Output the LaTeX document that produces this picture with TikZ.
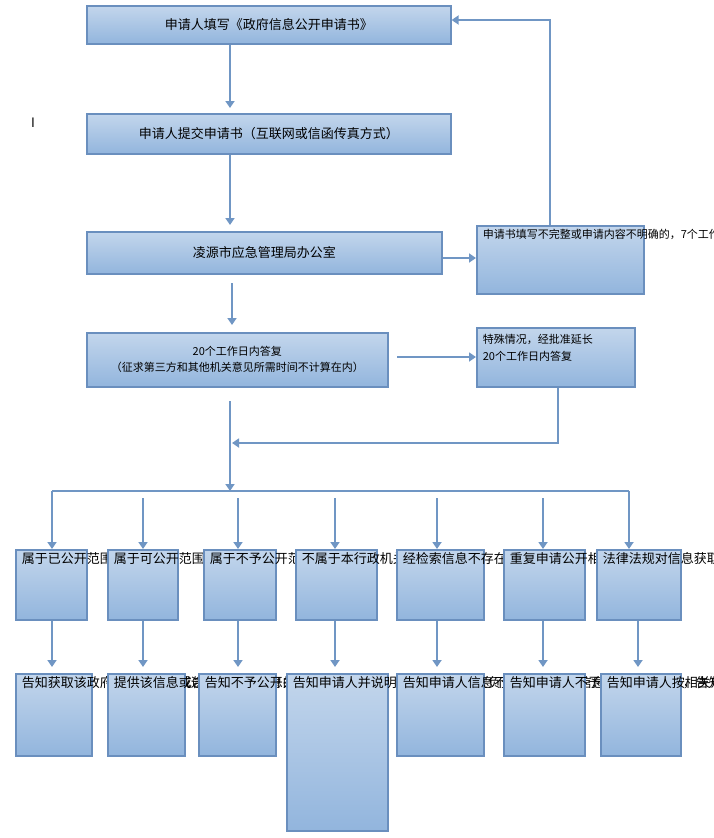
\documentclass[tikz,border=0pt]{standalone}
\usepackage{fontspec}
\setmainfont{Noto Sans CJK SC}
\usepackage{tikz}
\usetikzlibrary{arrows.meta, positioning}
\definecolor{boxline}{HTML}{6A8FBE}
\definecolor{boxtop}{HTML}{C3D6EC}
\definecolor{boxbot}{HTML}{92B5DD}
\definecolor{flow}{HTML}{7096C4}
\tikzstyle{stage}=[draw=boxline, line width=1.6pt, top color=boxtop, bottom color=boxbot, inner sep=0pt, anchor=north west]
\tikzstyle{flowarrow}=[draw=flow, line width=2.6pt, -{Triangle[length=7pt,width=9pt]}]
\tikzstyle{busline}=[draw=flow, line width=2.6pt]
% box with top-left text: width, height, text
\newcommand{\tb}[3]{\parbox[c][#2pt][t]{#1pt}{\vspace{3pt}\leftskip=6pt\rightskip=2pt plus 1fil\relax #3}}
\newcommand{\cb}[3]{\parbox[c][#2pt][c]{#1pt}{\centering #3}}

\begin{document}
\begin{tikzpicture}[x=1pt, y=-1pt, font=\fontsize{13}{15}\selectfont]
    \useasboundingbox (0,0) rectangle (713,838);
    \node[stage] (apply) at (86,5) {\cb{364}{38}{申请人填写《政府信息公开申请书》}};
    \node[stage] (submit) at (86,113) {\cb{364}{40}{申请人提交申请书（互联网或信函传真方式）}};
    \node[stage] (office) at (86,231) {\cb{355}{42}{凌源市应急管理局办公室}};
    \node[stage] (reply) at (86,332) {\cb{301}{54}{\fontsize{11}{16}\selectfont 20个工作日内答复\\（征求第三方和其他机关意见所需时间不计算在内）}};
    \node[stage] (amend) at (476,225) {\tb{167}{68}{\fontsize{11}{13.5}\selectfont 申请书填写不完整或申请内容不明确的，7个工作日内一次性告知其作出补正，并告知其补正期限。}};
    \node[stage] (extend) at (476,327) {\tb{158}{59}{\fontsize{11}{17}\selectfont\vspace{3pt}特殊情况，经批准延长\\20个工作日内答复}};
    \node (mark) at (33,123) {I};

    \draw[flowarrow] (apply.south -| 230,0) -- (230,108);
    \draw[flowarrow] (submit.south -| 230,0) -- (230,225);
    \draw[flowarrow] (232,283) -- (232,325);
    \draw[flowarrow] (office.east |- 0,258) -- (amend.west |- 0,258);
    \draw[flowarrow] (amend.north -| 550,0) -- (550,20) -- (apply.east |- 0,20);
    \draw[flowarrow] (397,357) -- (extend.west |- 0,357);
    \draw[flowarrow] (extend.south -| 558,0) -- (558,443) -- (232,443);
    \coordinate (busL) at (52,491);
    \coordinate (busR) at (629,491);
    \draw[flowarrow] (230,401) -- (230,491);
    \draw[busline] (busL) -- (busR);

    % cases
    \node[stage] (c1) at (15,549) {\tb{71}{70}{属于已公开范围的}};
    \node[stage] (c2) at (107,549) {\tb{70}{70}{属于可公开范围的}};
    \node[stage] (c3) at (203,549) {\tb{72}{70}{属于不予公开范围的}};
    \node[stage] (c4) at (295,549) {\tb{81}{70}{不属于本行政机关负责公开的}};
    \node[stage] (c5) at (396,549) {\tb{87}{70}{经检索信息不存在的}};
    \node[stage] (c6) at (503,549) {\tb{81}{70}{重复申请公开相同政府信息的}};
    \node[stage] (c7) at (596,549) {\tb{84}{70}{法律法规对信息获取另有规定的}};
    % answers
    \node[stage] (a1) at (15,673) {\tb{76}{82}{告知获取该政府信息的方式或途径}};
    \node[stage] (a2) at (107,673) {\tb{77}{82}{提供该信息或告知其获取信息的方式}};
    \node[stage] (a3) at (198,673) {\tb{77}{82}{告知不予公开并说明理由}};
    \node[stage] (a4) at (286,673) {\tb{101}{157}{告知申请人并说明理由；能够确定负责公开该政府信息的行政机关的，告知申请人该行政机关的名称、联系方式}};
    \node[stage] (a5) at (396,673) {\tb{87}{82}{告知申请人信息不存在}};
    \node[stage] (a6) at (503,673) {\tb{81}{82}{告知申请人不予重复处理}};
    \node[stage] (a7) at (600,673) {\tb{80}{82}{告知申请人按相关规定办理}};

    \draw[flowarrow] (busL) -- (c1.north -| busL);
    \draw[flowarrow] (busR) -- (c7.north -| busR);
    \foreach \x/\n in {143/2, 238/3, 335/4, 437/5, 543/6}
        \draw[flowarrow] (\x,498) -- (c\n.north -| \x,0);
    \foreach \x/\n in {52/1, 143/2, 238/3, 335/4, 437/5, 543/6, 638/7}
        \draw[flowarrow] (c\n.south -| \x,0) -- (\x,667);
\end{tikzpicture}
\end{document}
